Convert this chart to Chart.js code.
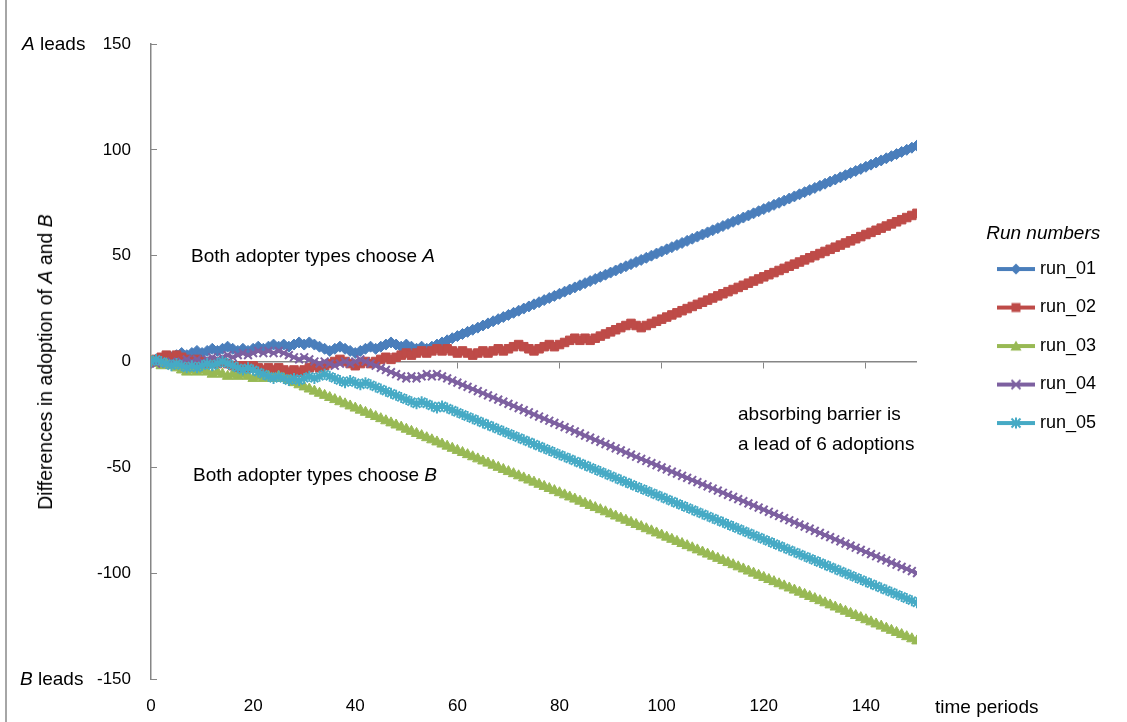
<!DOCTYPE html>
<html><head><meta charset="utf-8">
<script src="https://cdn.jsdelivr.net/npm/chart.js@4/dist/chart.umd.min.js"></script>
<style>
html,body{margin:0;padding:0;background:#fff;}
#wrap{position:relative;width:1127px;height:722px;overflow:hidden;font-family:'Liberation Sans',Arial,sans-serif;color:#000;}
#c{position:absolute;left:0;top:0;}
.t{position:absolute;white-space:nowrap;font-size:19px;line-height:22px;}
#frame{position:absolute;left:5px;top:0;width:2px;height:722px;background:#a6a6a6;}
#ytitle{position:absolute;left:45px;top:362px;transform:translate(-50%,-50%) rotate(-90deg);white-space:nowrap;font-size:19.5px;line-height:22px;}
</style></head>
<body><div id="wrap">
<div id="frame"></div>
<canvas id="c" width="1127" height="722"></canvas>
<div class="t" style="left:22px;top:33px"><i>A</i> leads</div>
<div class="t" style="left:20px;top:668px"><i>B</i> leads</div>
<div class="t" style="left:935px;top:696px">time periods</div>
<div class="t" style="left:191px;top:245px">Both adopter types choose <i>A</i></div>
<div class="t" style="left:193px;top:464px">Both adopter types choose <i>B</i></div>
<div class="t" style="left:738px;top:403px">absorbing barrier is</div>
<div class="t" style="left:738px;top:433px">a lead of 6 adoptions</div>
<div id="ytitle">Differences in adoption of <i>A</i> and <i>B</i></div>
</div>
<script>
const periods = [0,1,2,3,4,5,6,7,8,9,10,11,12,13,14,15,16,17,18,19,20,21,22,23,24,25,26,27,28,29,30,31,32,33,34,35,36,37,38,39,40,41,42,43,44,45,46,47,48,49,50,51,52,53,54,55,56,57,58,59,60,61,62,63,64,65,66,67,68,69,70,71,72,73,74,75,76,77,78,79,80,81,82,83,84,85,86,87,88,89,90,91,92,93,94,95,96,97,98,99,100,101,102,103,104,105,106,107,108,109,110,111,112,113,114,115,116,117,118,119,120,121,122,123,124,125,126,127,128,129,130,131,132,133,134,135,136,137,138,139,140,141,142,143,144,145,146,147,148,149,150];

const run01 = [0,1,0,1,2,3,4,3,4,5,4,5,6,5,6,7,6,5,6,5,6,7,6,7,8,7,8,7,8,9,8,9,8,7,6,5,6,7,6,5,4,5,6,7,6,7,8,9,8,7,8,7,6,7,6,7,
8,9,10,11,12,13,14,15,16,17,18,19,20,21,22,23,24,25,26,27,28,29,30,31,32,33,34,35,36,37,38,39,40,41,42,43,44,45,46,47,48,49,50,51,52,53,54,55,56,57,58,59,60,61,62,63,64,65,66,67,68,69,70,71,72,73,74,75,76,77,78,79,80,81,82,83,84,85,86,87,88,89,90,91,92,93,94,95,96,97,98,99,100,101,102];

const run02 = [0,1,2,3,2,3,2,1,0,1,0,-1,0,-1,0,-1,-2,-3,-2,-3,-2,-3,-4,-3,-4,-3,-4,-5,-4,-5,-4,-3,-2,-3,-2,-1,0,1,0,-1,-2,-1,0,-1,0,1,2,1,2,3,4,3,4,5,4,5,6,5,6,5,4,5,4,3,4,5,4,5,6,5,6,7,8,7,6,5,6,7,8,7,8,9,10,11,10,11,10,11,12,13,14,15,16,17,18,17,16,
17,18,19,20,21,22,23,24,25,26,27,28,29,30,31,32,33,34,35,36,37,38,39,40,41,42,43,44,45,46,47,48,49,50,51,52,53,54,55,56,57,58,59,60,61,62,63,64,65,66,67,68,69,70];

const run03 = [0,-1,-2,-1,-2,-3,-4,-5,-4,-5,-4,-5,-6,-5,-6,-7,-6,-7,-6,-7,-8,-7,-8,-7,-8,-7,-8,
-9,-10,-11,-12,-13,-14,-15,-16,-17,-18,-19,-20,-21,-22,-23,-24,-25,-26,-27,-28,-29,-30,-31,-32,-33,-34,-35,-36,-37,-38,-39,-40,-41,-42,-43,-44,-45,-46,-47,-48,-49,-50,-51,-52,-53,-54,-55,-56,-57,-58,-59,-60,-61,-62,-63,-64,-65,-66,-67,-68,-69,-70,-71,-72,-73,-74,-75,-76,-77,-78,-79,-80,-81,-82,-83,-84,-85,-86,-87,-88,-89,-90,-91,-92,-93,-94,-95,-96,-97,-98,-99,-100,-101,-102,-103,-104,-105,-106,-107,-108,-109,-110,-111,-112,-113,-114,-115,-116,-117,-118,-119,-120,-121,-122,-123,-124,-125,-126,-127,-128,-129,-130,-131,-132];

const run04 = [0,-1,0,-1,0,-1,0,1,0,1,0,1,2,1,2,3,2,3,4,3,4,5,4,5,4,5,4,3,2,1,2,1,0,-1,0,-1,-2,-1,0,-1,0,1,0,-1,-2,-3,-4,-5,-6,-7,-8,-7,-8,-7,-6,-7,-6,
-7,-8,-9,-10,-11,-12,-13,-14,-15,-16,-17,-18,-19,-20,-21,-22,-23,-24,-25,-26,-27,-28,-29,-30,-31,-32,-33,-34,-35,-36,-37,-38,-39,-40,-41,-42,-43,-44,-45,-46,-47,-48,-49,-50,-51,-52,-53,-54,-55,-56,-57,-58,-59,-60,-61,-62,-63,-64,-65,-66,-67,-68,-69,-70,-71,-72,-73,-74,-75,-76,-77,-78,-79,-80,-81,-82,-83,-84,-85,-86,-87,-88,-89,-90,-91,-92,-93,-94,-95,-96,-97,-98,-99,-100];

const run05 = [0,1,0,-1,-2,-1,-2,-3,-2,-3,-2,-1,-2,-1,0,-1,-2,-3,-4,-3,-4,-5,-6,-7,-8,-7,-8,-9,-8,-9,-8,-7,-8,-7,-6,-7,-8,-9,-10,-9,-10,-11,-10,-11,-12,-13,-14,-15,-16,-17,-18,-19,-20,-19,-20,-21,-22,-21,-22,-23,-24,-25,-26,
-27,-28,-29,-30,-31,-32,-33,-34,-35,-36,-37,-38,-39,-40,-41,-42,-43,-44,-45,-46,-47,-48,-49,-50,-51,-52,-53,-54,-55,-56,-57,-58,-59,-60,-61,-62,-63,-64,-65,-66,-67,-68,-69,-70,-71,-72,-73,-74,-75,-76,-77,-78,-79,-80,-81,-82,-83,-84,-85,-86,-87,-88,-89,-90,-91,-92,-93,-94,-95,-96,-97,-98,-99,-100,-101,-102,-103,-104,-105,-106,-107,-108,-109,-110,-111,-112,-113,-114];

const seriesNames = ['run_01','run_02','run_03','run_04','run_05'];
const seriesValues = [run01, run02, run03, run04, run05];
const xTickValues = [0,20,40,60,80,100,120,140];
const yTickValues = [-150,-100,-50,0,50,100,150];
const legendTitle = 'Run numbers';

const FONT = "'Liberation Sans', Arial, sans-serif";
const colors = ['#4A7EBB','#BE4B48','#98B954','#7D60A0','#46AAC5'];
const markers = ['rectRot','rect','triangle','crossRot','star'];
const radii = [5.5, 6, 6, 5.5, 5.5];
const pbw = [1, 1, 1, 2, 2];
const axisGray = '#868686';

function legendSample(color, style) {
  const c = document.createElement('canvas');
  c.width = 40; c.height = 14;
  const g = c.getContext('2d');
  g.strokeStyle = color; g.fillStyle = color; g.lineWidth = 4;
  g.beginPath(); g.moveTo(1, 7); g.lineTo(39, 7); g.stroke();
  g.lineWidth = 2;
  g.beginPath();
  if (style === 'rectRot') { g.moveTo(20,1.5); g.lineTo(25.5,7); g.lineTo(20,12.5); g.lineTo(14.5,7); g.closePath(); g.fill(); }
  else if (style === 'rect') { g.fillRect(15.5,2.5,9,9); }
  else if (style === 'triangle') { g.moveTo(20,1.5); g.lineTo(25.5,11.5); g.lineTo(14.5,11.5); g.closePath(); g.fill(); }
  else if (style === 'crossRot') { g.moveTo(15.5,2.5); g.lineTo(24.5,11.5); g.moveTo(24.5,2.5); g.lineTo(15.5,11.5); g.stroke(); }
  else { g.moveTo(15.5,2.5); g.lineTo(24.5,11.5); g.moveTo(24.5,2.5); g.lineTo(15.5,11.5); g.moveTo(20,1.5); g.lineTo(20,12.5); g.stroke(); }
  return c;
}
const samples = colors.map((c, i) => legendSample(c, markers[i]));

const datasets = seriesNames.map((name, i) => ({
  label: name,
  data: seriesValues[i],
  borderColor: colors[i],
  backgroundColor: colors[i],
  borderWidth: 3.5,
  pointStyle: markers[i],
  pointRadius: radii[i],
  pointBorderWidth: pbw[i],
  pointBackgroundColor: colors[i],
  pointBorderColor: colors[i],
  tension: 0,
  fill: false,
  order: 4 - i,
  xAxisID: 'x',
  yAxisID: 'y'
}));

const setTicks = vals => s => { s.ticks = vals.map(v => ({ value: v })); };

new Chart(document.getElementById('c'), {
  type: 'line',
  data: { labels: periods, datasets },
  options: {
    responsive: false,
    devicePixelRatio: 1,
    animation: false,
    layout: { padding: { top: 44, left: 0, bottom: 0, right: 21 } },
    scales: {
      x: {
        type: 'linear', axis: 'x', min: 0, max: 150,
        position: { y: 0 },
        afterBuildTicks: setTicks(xTickValues),
        ticks: { display: false },
        grid: { drawOnChartArea: false, drawTicks: true, tickLength: 6, color: axisGray, lineWidth: 1 },
        border: { display: true, color: axisGray, width: 1.5 }
      },
      x2: {
        type: 'linear', axis: 'x', min: 0, max: 150,
        position: 'bottom',
        afterBuildTicks: setTicks(xTickValues),
        afterFit: s => { s.height = 43; },
        ticks: { padding: 17, autoSkip: false, maxRotation: 0, color: '#000', font: { family: FONT, size: 17 } },
        grid: { display: false, drawTicks: false },
        border: { display: false }
      },
      y: {
        type: 'linear', axis: 'y', min: -150, max: 150,
        position: 'left',
        afterBuildTicks: setTicks(yTickValues),
        afterFit: s => { s.width = 151; },
        ticks: { padding: 26, color: '#000', font: { family: FONT, size: 17 } },
        grid: { drawOnChartArea: false, drawTicks: true, tickLength: -6, color: axisGray, lineWidth: 1 },
        border: { display: true, color: axisGray, width: 1.5 }
      },
      gap: {
        type: 'linear', axis: 'y', min: 0, max: 1,
        position: 'right',
        afterFit: s => { s.width = 63.5; },
        ticks: { display: false },
        grid: { display: false, drawTicks: false },
        border: { display: false }
      }
    },
    plugins: {
      tooltip: { enabled: false },
      legend: {
        position: 'right',
        align: 'start',
        title: {
          display: true,
          text: legendTitle,
          color: '#000',
          font: { family: FONT, size: 19, style: 'italic', lineHeight: 0.79 },
          padding: { top: 180.5, bottom: 0 }
        },
        labels: {
          usePointStyle: true,
          pointStyleWidth: 30,
          padding: 20.5,
          color: '#000',
          font: { family: FONT, size: 18 },
          sort: (a, b) => a.datasetIndex - b.datasetIndex,
          generateLabels: chart => chart.data.datasets.map((d, i) => ({
            text: d.label,
            datasetIndex: i,
            pointStyle: samples[i],
            fillStyle: colors[i],
            strokeStyle: colors[i],
            lineWidth: 0,
            hidden: false,
            fontColor: '#000'
          }))
        }
      }
    }
  }
});
</script>
</body></html>
